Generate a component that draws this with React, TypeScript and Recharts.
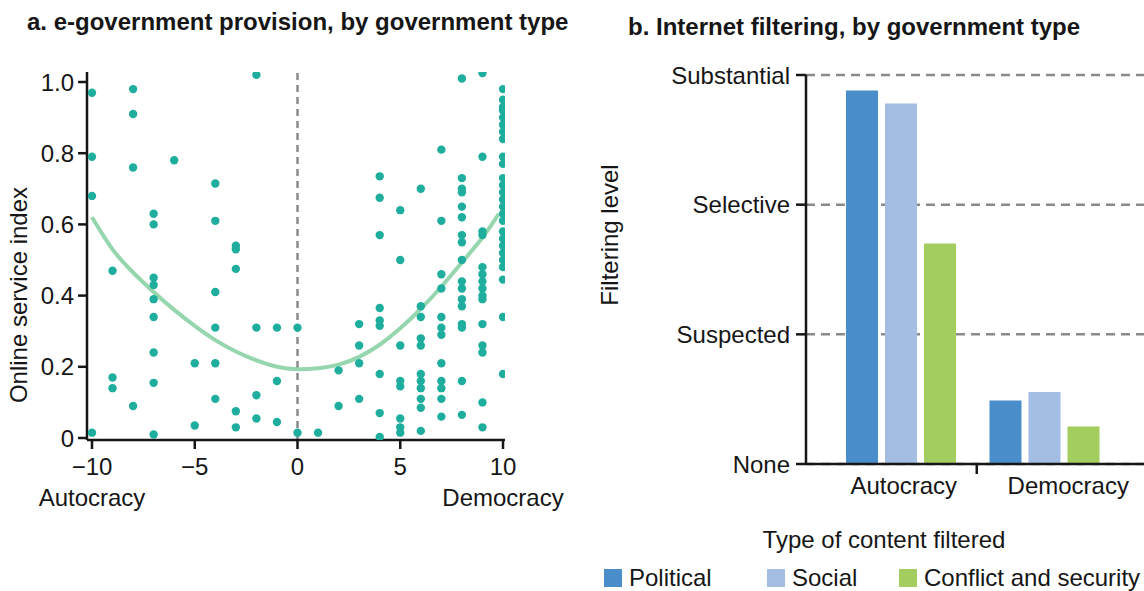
import React from "react";
import {
  ComposedChart,
  Scatter,
  Line,
  XAxis,
  YAxis,
  ReferenceLine,
  BarChart,
  Bar,
  CartesianGrid,
} from "recharts";

const FONT = '"Liberation Sans", Arial, Helvetica, sans-serif';
const INK = "#161616";
const FS = 24;

// ---- panel a: e-government provision ----
const polityScores = [-10, -9, -8, -7, -6, -5, -4, -3, -2, -1, 0, 1, 2, 3, 4, 5, 6, 7, 8, 9, 10];
const serviceIndexByScore = [
  [0.97, 0.79, 0.68, 0.015],
  [0.47, 0.17, 0.14],
  [0.98, 0.91, 0.76, 0.09],
  [0.63, 0.6, 0.45, 0.43, 0.39, 0.34, 0.24, 0.155, 0.01],
  [0.78],
  [0.21, 0.035],
  [0.715, 0.61, 0.41, 0.31, 0.21, 0.11],
  [0.54, 0.53, 0.475, 0.075, 0.03],
  [1.02, 0.31, 0.12, 0.055],
  [0.31, 0.16, 0.045],
  [0.31, 0.015],
  [0.015],
  [0.19, 0.09],
  [0.32, 0.26, 0.21, 0.11],
  [0.735, 0.675, 0.57, 0.365, 0.33, 0.315, 0.18, 0.07, 0.003],
  [0.64, 0.5, 0.26, 0.16, 0.145, 0.055, 0.03, 0.015],
  [0.7, 0.37, 0.34, 0.28, 0.26, 0.18, 0.16, 0.14, 0.11, 0.085, 0.02],
  [0.81, 0.61, 0.46, 0.42, 0.34, 0.31, 0.29, 0.21, 0.16, 0.14, 0.11, 0.06],
  [1.01, 0.73, 0.7, 0.69, 0.65, 0.62, 0.57, 0.55, 0.5, 0.44, 0.42, 0.39, 0.37, 0.32, 0.31, 0.16, 0.065],
  [1.025, 0.79, 0.58, 0.57, 0.48, 0.46, 0.44, 0.42, 0.4, 0.39, 0.32, 0.26, 0.24, 0.1, 0.03],
  [
    0.98, 0.95, 0.93, 0.92, 0.9, 0.88, 0.86, 0.84, 0.79, 0.77, 0.73, 0.71, 0.69, 0.67, 0.65, 0.63,
    0.61, 0.58, 0.56, 0.54, 0.52, 0.5, 0.48, 0.445, 0.34, 0.18,
  ],
];
// fitted curve
const fitScores = [-10, -9, -8, -7, -6, -5, -4, -3, -2, -1, 0, 1, 2, 3, 4, 5, 6, 7, 8, 9, 9.8];
const fitIndex = [
  0.62, 0.53, 0.465, 0.41, 0.36, 0.315, 0.275, 0.243, 0.218, 0.2, 0.193, 0.196, 0.206, 0.228, 0.262,
  0.308, 0.363, 0.425, 0.493, 0.563, 0.63,
];
const polityTicks = [-10, -5, 0, 5, 10];
const indexTicks = [0, 0.2, 0.4, 0.6, 0.8, 1.0];

// ---- panel b: internet filtering ----
const govTypes = ["Autocracy", "Democracy"];
const political = [2.88, 0.49];
const social = [2.78, 0.555];
const conflict = [1.7, 0.29];
const filterLevels = ["None", "Suspected", "Selective", "Substantial"];
const seriesKeys = ["political", "social", "conflict"];
const seriesNames = ["Political", "Social", "Conflict and security"];
const seriesColors = ["#4a8dcb", "#a3bde3", "#a4cd60"];

const points = polityScores.flatMap((s, i) => serviceIndexByScore[i].map((v) => ({ x: s, y: v })));
const fitData = fitScores.map((x, i) => ({ x, y: fitIndex[i] }));
const barData = govTypes.map((type, i) => ({
  type,
  political: political[i],
  social: social[i],
  conflict: conflict[i],
}));

const PolityTick = (props: any) => {
  const { x, y, payload } = props;
  const v = payload.value;
  const label = v < 0 ? `\u2212${Math.abs(v)}` : `${v}`;
  const sub = v === -10 ? "Autocracy" : v === 10 ? "Democracy" : null;
  return (
    <g fontFamily={FONT} fontSize={FS} fill={INK}>
      <text x={x} y={y + 26} textAnchor="middle">
        {label}
      </text>
      {sub && (
        <text x={x} y={y + 57} textAnchor="middle">
          {sub}
        </text>
      )}
    </g>
  );
};

// label nudges and the separator mark between the two groups
const govLabelShift = [3, 24];
const GovTick = (props: any) => {
  const { x, y, payload, index } = props;
  return (
    <g>
      {index === 0 && <line x1={x + 76} x2={x + 76} y1={y} y2={y + 10} stroke={INK} strokeWidth={2.5} />}
      <text x={x + govLabelShift[index]} y={y + 30} textAnchor="middle" fontFamily={FONT} fontSize={FS} fill={INK}>
        {payload.value}
      </text>
    </g>
  );
};

const Dot = (props: any) => <circle cx={props.cx} cy={props.cy} r={4.2} fill="#1fae9d" />;

const textBase: React.CSSProperties = {
  position: "absolute",
  fontFamily: FONT,
  color: INK,
  whiteSpace: "nowrap",
  lineHeight: 1.2,
};

const legendLefts = [604, 767, 899];

export default function App() {
  return (
    <div style={{ position: "absolute", left: 0, top: 0, width: 1144, height: 591, background: "#fff", overflow: "hidden" }}>
      <div style={{ ...textBase, left: 27, top: 8, fontSize: 24, fontWeight: 700 }}>
        a. e-government provision, by government type
      </div>
      <div style={{ ...textBase, left: 628, top: 13, fontSize: 24, fontWeight: 700 }}>
        b. Internet filtering, by government type
      </div>

      <div
        style={{
          ...textBase,
          fontSize: FS,
          left: 19,
          top: 295,
          transform: "translate(-50%, -50%) rotate(-90deg)",
        }}
      >
        Online service index
      </div>

      <div style={{ position: "absolute", left: 0, top: 0 }}>
        <ComposedChart width={580} height={530} margin={{ top: 72, right: 75, bottom: 30, left: 27 }}>
          <XAxis
            type="number"
            dataKey="x"
            domain={[-10.243, 10.097]}
            allowDataOverflow
            ticks={polityTicks}
            tick={<PolityTick />}
            tickSize={9}
            tickMargin={0}
            height={60}
            axisLine={{ stroke: INK, strokeWidth: 2.5 }}
            tickLine={{ stroke: INK, strokeWidth: 2.5 }}
          />
          <YAxis
            type="number"
            dataKey="y"
            domain={[-0.0056, 1.0281]}
            allowDataOverflow
            ticks={indexTicks}
            tickFormatter={(v: number) => (v === 0 ? "0" : v.toFixed(1))}
            width={60}
            tickSize={9}
            tickMargin={4}
            tick={{ fontSize: FS, fill: INK, fontFamily: FONT }}
            axisLine={{ stroke: INK, strokeWidth: 2.5 }}
            tickLine={{ stroke: INK, strokeWidth: 2.5 }}
          />
          <ReferenceLine x={0} stroke="#8a8a8a" strokeWidth={2.5} strokeDasharray="7 5" />
          <Line
            data={fitData}
            dataKey="y"
            type="natural"
            dot={false}
            activeDot={false}
            stroke="#8bd1a5"
            strokeWidth={4}
            strokeOpacity={0.9}
            isAnimationActive={false}
          />
          <Scatter data={points} dataKey="y" shape={<Dot />} isAnimationActive={false} />
        </ComposedChart>
      </div>

      <div style={{ ...textBase, fontSize: FS, left: 610, top: 235, transform: "translate(-50%, -50%) rotate(-90deg)" }}>
        Filtering level
      </div>
      <div style={{ ...textBase, fontSize: FS, left: 884, top: 540, transform: "translate(-50%, -50%)" }}>
        Type of content filtered
      </div>

      <div style={{ position: "absolute", left: 600, top: 0 }}>
        <BarChart
          width={544}
          height={591}
          data={barData}
          margin={{ top: 75, right: 0, bottom: 77, left: 0 }}
          barSize={32}
          barGap={7}
        >
          <CartesianGrid vertical={false} stroke="#8a8a8a" strokeWidth={2.5} strokeDasharray="9 6" />
          <XAxis
            dataKey="type"
            padding={{ left: 23, right: 28 }}
            height={50}
            tickLine={false}
            tickSize={0}
            tickMargin={0}
            tick={<GovTick />}
            axisLine={{ stroke: INK, strokeWidth: 2.5 }}
            interval={0}
          />
          <YAxis
            type="number"
            domain={[0, 3]}
            ticks={[0, 1, 2, 3]}
            tickFormatter={(v: number) => filterLevels[v]}
            width={206}
            tickSize={10}
            tickMargin={6}
            tick={{ fontSize: FS, fill: INK, fontFamily: FONT }}
            axisLine={{ stroke: INK, strokeWidth: 2.5 }}
            tickLine={{ stroke: INK, strokeWidth: 2.5 }}
          />
          {seriesKeys.map((k, i) => (
            <Bar key={k} dataKey={k} name={seriesNames[i]} fill={seriesColors[i]} isAnimationActive={false} />
          ))}
        </BarChart>
      </div>

      {seriesNames.map((name, i) => (
        <div
          key={name}
          style={{ position: "absolute", left: legendLefts[i], top: 563, height: 30, display: "flex", alignItems: "center" }}
        >
          <div style={{ width: 18, height: 18, background: seriesColors[i] }} />
          <span style={{ fontFamily: FONT, color: INK, whiteSpace: "nowrap", fontSize: FS, lineHeight: "30px", marginLeft: 7 }}>
            {name}
          </span>
        </div>
      ))}
    </div>
  );
}
